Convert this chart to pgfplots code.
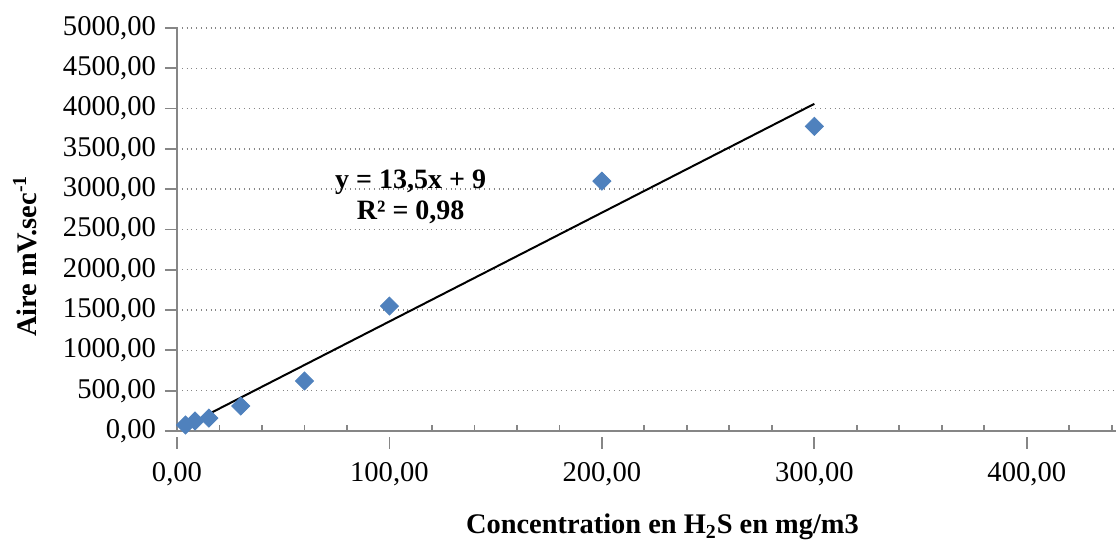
\documentclass[border=0pt]{standalone}
\usepackage{fontspec}
\setmainfont{Liberation Serif}
\usepackage{pgfplots}
\pgfplotsset{compat=1.18}
\definecolor{excelblue}{RGB}{79,129,189}
\definecolor{axisgray}{RGB}{134,134,134}

\begin{document}
\begin{tikzpicture}
\begin{axis}[
    name=ax,
    scale only axis,
    width=469.5pt, height=201.5pt,
    xmin=0, xmax=442,
    ymin=0, ymax=5000,
    xtick={0,100,200,300,400},
    minor xtick={20,40,60,80,120,140,160,180,220,240,260,280,320,340,360,380,420,440},
    ytick={0,500,...,5000},
    axis lines*=left,
    axis line style={axisgray, line width=0.9pt, -},
    every tick/.style={axisgray, line width=0.9pt},
    major x tick style={yshift=-3pt},
    major tick length=6pt,
    minor tick length=3pt,
    ytick pos=left, xtick pos=bottom,
    tick align=outside,
    minor tick style={yshift=3pt},
    ymajorgrids,
    grid style={axisgray, dotted, line width=0.7pt},
    /pgf/number format/.cd, fixed, fixed zerofill, precision=2, use comma, 1000 sep={}, assume math mode=true,
    /pgfplots/.cd,
    ticklabel style={font=\fontsize{14.3}{16}\selectfont},
    xticklabel style={yshift=-6pt},
    yticklabel style={xshift=-1pt},
    xlabel={\textbf{Concentration en H\textsubscript{2}S en mg/m3}},
    xlabel style={font=\fontsize{14.2}{16}\selectfont, at={(axis description cs:0.517,0)}, anchor=center, yshift=-48pt},
    ylabel={\textbf{Aire mV.sec\textsuperscript{-1}}},
    ylabel style={font=\fontsize{14.2}{16}\selectfont, at={(axis description cs:0,0.434)}, anchor=center, yshift=76pt},
    clip=false,
]
\addplot[only marks, mark=square*, mark size=3.2pt, mark options={excelblue, rotate=45}]
    coordinates {(4,74) (8.5,124) (15,161) (30,310) (60,620) (100,1550) (200,3100) (300,3780)};
\addplot[black, line width=1pt] coordinates {(4,63) (300,4059)};
\node[align=center, font=\fontsize{14}{15.5}\selectfont\bfseries] at (axis cs:110,2910) {y = 13,5x + 9\\R² = 0,98};
\end{axis}
\pgfresetboundingbox
\path (ax.south west) ++(-88.5pt,-56.5pt) coordinate (bl);
\path (ax.north east) ++(0pt,14pt) coordinate (tr);
\path[use as bounding box] (bl) rectangle (tr);
\end{tikzpicture}
\end{document}
